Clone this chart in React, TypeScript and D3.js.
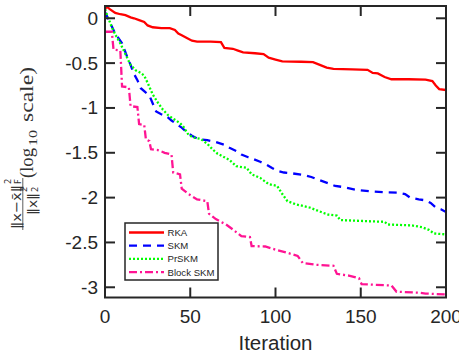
import { useEffect, useRef } from "react"
import * as d3 from "d3"

const xTicks = [0, 50, 100, 150, 200]
const yTicks = [0, -0.5, -1, -1.5, -2, -2.5, -3]
const yTickLabels = ["0", "-0.5", "-1", "-1.5", "-2", "-2.5", "-3"]

const seriesNames = ["RKA", "SKM", "PrSKM", "Block SKM"]

// [iteration, log10 relative error]
const rka: [number, number][] = [
  [0, 0.1], [1, 0.13], [3, 0.1], [6, 0.06], [9, 0.045], [12, 0.035], [15, 0.01], [17, 0.0],
  [20, -0.02], [23, -0.04], [25, -0.08], [28, -0.1], [33, -0.11], [38, -0.11], [41, -0.13],
  [43, -0.17], [45, -0.19], [48, -0.22], [51, -0.25], [54, -0.26], [62, -0.26], [68, -0.265],
  [70, -0.33], [75, -0.34], [78, -0.36], [81, -0.38], [88, -0.39], [93, -0.4], [96, -0.44],
  [100, -0.46], [104, -0.48], [115, -0.485], [122, -0.49], [126, -0.52], [130, -0.55],
  [134, -0.565], [145, -0.57], [154, -0.575], [157, -0.61], [160, -0.615], [164, -0.655],
  [168, -0.68], [178, -0.68], [188, -0.685], [192, -0.7], [194, -0.75], [196, -0.79], [200, -0.8],
]

const skm: [number, number][] = [
  [0, 0.07], [3, -0.05], [6, -0.17], [10, -0.28], [13, -0.43], [15, -0.52], [17, -0.62],
  [19, -0.69], [21, -0.78], [24, -0.83], [26, -0.86], [28, -0.95], [30, -1.04], [33, -1.07],
  [36, -1.09], [39, -1.14], [42, -1.18], [45, -1.22], [48, -1.27], [51, -1.31], [55, -1.35],
  [60, -1.36], [65, -1.38], [70, -1.41], [73, -1.445], [77, -1.48], [80, -1.52], [84, -1.55],
  [87, -1.57], [91, -1.6], [95, -1.635], [98, -1.67], [101, -1.7], [105, -1.72], [110, -1.73],
  [117, -1.75], [121, -1.77], [125, -1.8], [131, -1.84], [135, -1.87], [139, -1.88],
  [144, -1.9], [148, -1.915], [156, -1.93], [165, -1.94], [172, -1.945], [176, -1.96],
  [179, -2.0], [184, -2.02], [188, -2.03], [191, -2.06], [194, -2.11], [197, -2.13], [200, -2.16],
]

const prskm: [number, number][] = [
  [0, 0.1], [2, 0.0], [4, -0.1], [6, -0.18], [9, -0.28], [12, -0.4], [15, -0.52], [18, -0.58],
  [21, -0.61], [23, -0.64], [25, -0.72], [28, -0.85], [31, -0.94], [34, -1.02], [37, -1.08],
  [40, -1.12], [44, -1.17], [46, -1.21], [49, -1.3], [52, -1.33], [56, -1.345], [60, -1.4],
  [63, -1.46], [66, -1.51], [70, -1.55], [73, -1.58], [77, -1.65], [83, -1.667], [86, -1.74],
  [91, -1.78], [96, -1.85], [101, -1.87], [104, -1.96], [107, -2.04], [112, -2.075],
  [120, -2.11], [128, -2.17], [131, -2.19], [136, -2.2], [138, -2.25], [150, -2.26],
  [164, -2.27], [166, -2.3], [180, -2.31], [186, -2.33], [190, -2.36], [193, -2.4], [200, -2.41],
]

const blockSkm: [number, number][] = [
  [0, -0.15], [4, -0.15], [5, -0.35], [9, -0.36], [10, -0.76], [14, -0.77], [15, -0.98],
  [19, -0.99], [20, -1.18], [23, -1.19], [24, -1.35], [26, -1.37], [27, -1.46], [31, -1.47],
  [35, -1.5], [39, -1.52], [40, -1.72], [44, -1.74], [45, -1.9], [49, -1.96], [54, -2.02],
  [60, -2.04], [61, -2.18], [65, -2.24], [71, -2.3], [75, -2.355], [80, -2.43], [85, -2.44],
  [86, -2.54], [94, -2.545], [100, -2.58], [106, -2.61], [113, -2.65], [116, -2.73],
  [124, -2.75], [134, -2.76], [136, -2.85], [143, -2.87], [149, -2.9], [150.5, -2.965],
  [168, -2.98], [171, -3.05], [184, -3.06], [188, -3.07], [200, -3.08],
]

const seriesData = [rka, skm, prskm, blockSkm]
const seriesColors = ["#ff0000", "#0000ff", "#00ff00", "#ff1493"]
const seriesDash = ["none", "8,6", "2,2", "8,3,2,3"]

export default function App() {
  const svgRef = useRef<SVGSVGElement>(null)

  useEffect(() => {
    if (!svgRef.current) return

    const width = 459
    const height = 358
    const left = 105
    const right = 446
    const top = 6
    const bottom = 297.5
    const axisColor = "#262626"
    const tickLen = 10

    d3.select(svgRef.current).selectAll("*").remove()

    const svg = d3.select(svgRef.current).attr("width", width).attr("height", height)

    svg.append("rect").attr("width", width).attr("height", height).attr("fill", "#fff")

    const x = d3.scaleLinear().domain([0, 200]).range([left, right])
    const y = d3.scaleLinear().domain([-3.114, 0.137]).range([bottom, top])

    svg
      .append("clipPath")
      .attr("id", "plot-clip")
      .append("rect")
      .attr("x", left)
      .attr("y", top)
      .attr("width", right - left)
      .attr("height", bottom - top)

    const line = d3
      .line<[number, number]>()
      .x((d) => x(d[0]))
      .y((d) => y(d[1]))

    // Curves
    svg
      .append("g")
      .attr("clip-path", "url(#plot-clip)")
      .selectAll("path")
      .data(seriesData)
      .join("path")
      .attr("d", (d) => line(d))
      .attr("fill", "none")
      .attr("stroke", (_, i) => seriesColors[i])
      .attr("stroke-width", 2.3)
      .attr("stroke-dasharray", (_, i) => seriesDash[i])

    // Box
    svg
      .append("rect")
      .attr("x", left)
      .attr("y", top)
      .attr("width", right - left)
      .attr("height", bottom - top)
      .attr("fill", "none")
      .attr("stroke", axisColor)
      .attr("stroke-width", 2)

    // Ticks on all four sides, pointing in
    const ticks = svg.append("g").attr("stroke", axisColor).attr("stroke-width", 2)
    xTicks.forEach((t) => {
      ticks.append("line").attr("x1", x(t)).attr("x2", x(t)).attr("y1", bottom).attr("y2", bottom - tickLen)
      ticks.append("line").attr("x1", x(t)).attr("x2", x(t)).attr("y1", top).attr("y2", top + tickLen)
    })
    yTicks.forEach((t) => {
      ticks.append("line").attr("x1", left).attr("x2", left + tickLen).attr("y1", y(t)).attr("y2", y(t))
      ticks.append("line").attr("x1", right).attr("x2", right - tickLen).attr("y1", y(t)).attr("y2", y(t))
    })

    // Tick labels
    svg
      .append("g")
      .selectAll("text")
      .data(xTicks)
      .join("text")
      .attr("x", (d) => x(d))
      .attr("y", 323)
      .attr("text-anchor", "middle")
      .attr("font-family", "Liberation Sans, Arial, sans-serif")
      .attr("font-size", 19)
      .attr("fill", axisColor)
      .text((d) => String(d))

    svg
      .append("g")
      .selectAll("text")
      .data(yTicks)
      .join("text")
      .attr("x", 98)
      .attr("y", (d) => y(d) + 6.5)
      .attr("text-anchor", "end")
      .attr("font-family", "Liberation Sans, Arial, sans-serif")
      .attr("font-size", 19)
      .attr("fill", axisColor)
      .text((_, i) => yTickLabels[i])

    // X label
    svg
      .append("text")
      .attr("x", (left + right) / 2)
      .attr("y", 350)
      .attr("text-anchor", "middle")
      .attr("font-family", "Liberation Sans, Arial, sans-serif")
      .attr("font-size", 20.5)
      .attr("fill", axisColor)
      .text("Iteration")

    // Y label (rotated): fraction + (log10 scale)
    const yl = svg.append("g").attr("transform", "translate(0,230) rotate(-90)").attr("fill", "#333")
    const sans = "DejaVu Sans, Liberation Sans, sans-serif"
    const serif = "Liberation Serif, DejaVu Serif, serif"
    const piece = (
      txt: string, px: number, py: number, size: number, family: string, len?: number,
    ) => {
      const t = yl.append("text").attr("x", px).attr("y", py).attr("font-size", size)
        .attr("font-family", family).text(txt)
      if (len) t.attr("textLength", len).attr("lengthAdjust", "spacingAndGlyphs")
    }
    // numerator
    piece("\u2016x\u2212x\u0304\u2016", 1, 20.5, 13, sans, 44)
    piece("2", 46, 11, 8.5, sans)
    piece("F", 46, 21, 8.5, sans)
    yl.append("line").attr("x1", 0).attr("x2", 52).attr("y1", 22.8).attr("y2", 22.8)
      .attr("stroke", "#333").attr("stroke-width", 0.8)
    // denominator
    piece("\u2016x\u2016", 15, 37, 13, sans, 22)
    piece("2", 38, 27, 8.5, sans)
    piece("2", 38, 37.5, 8.5, sans)
    // (log10 scale)
    piece("(log", 52, 32.5, 18, serif, 30)
    piece("10", 84, 36.5, 13, serif, 16)
    piece("scale)", 108, 32.5, 18, serif, 55)

    // Legend
    const legend = svg.append("g")
    legend
      .append("rect")
      .attr("x", 125)
      .attr("y", 223)
      .attr("width", 93)
      .attr("height", 57)
      .attr("fill", "#fff")
      .attr("stroke", axisColor)
      .attr("stroke-width", 1.5)

    seriesNames.forEach((name, i) => {
      const ry = 232.5 + i * 13.2
      legend
        .append("line")
        .attr("x1", 129)
        .attr("x2", 164)
        .attr("y1", ry)
        .attr("y2", ry)
        .attr("stroke", seriesColors[i])
        .attr("stroke-width", 2.3)
        .attr("stroke-dasharray", seriesDash[i])
      legend
        .append("text")
        .attr("x", 167.5)
        .attr("y", ry + 3.5)
        .attr("font-family", "Liberation Sans, Arial, sans-serif")
        .attr("font-size", 9.6)
        .attr("fill", "#262626")
        .text(name)
    })
  }, [])

  return <svg ref={svgRef} style={{ position: "absolute", left: 0, top: 0 }} />
}
